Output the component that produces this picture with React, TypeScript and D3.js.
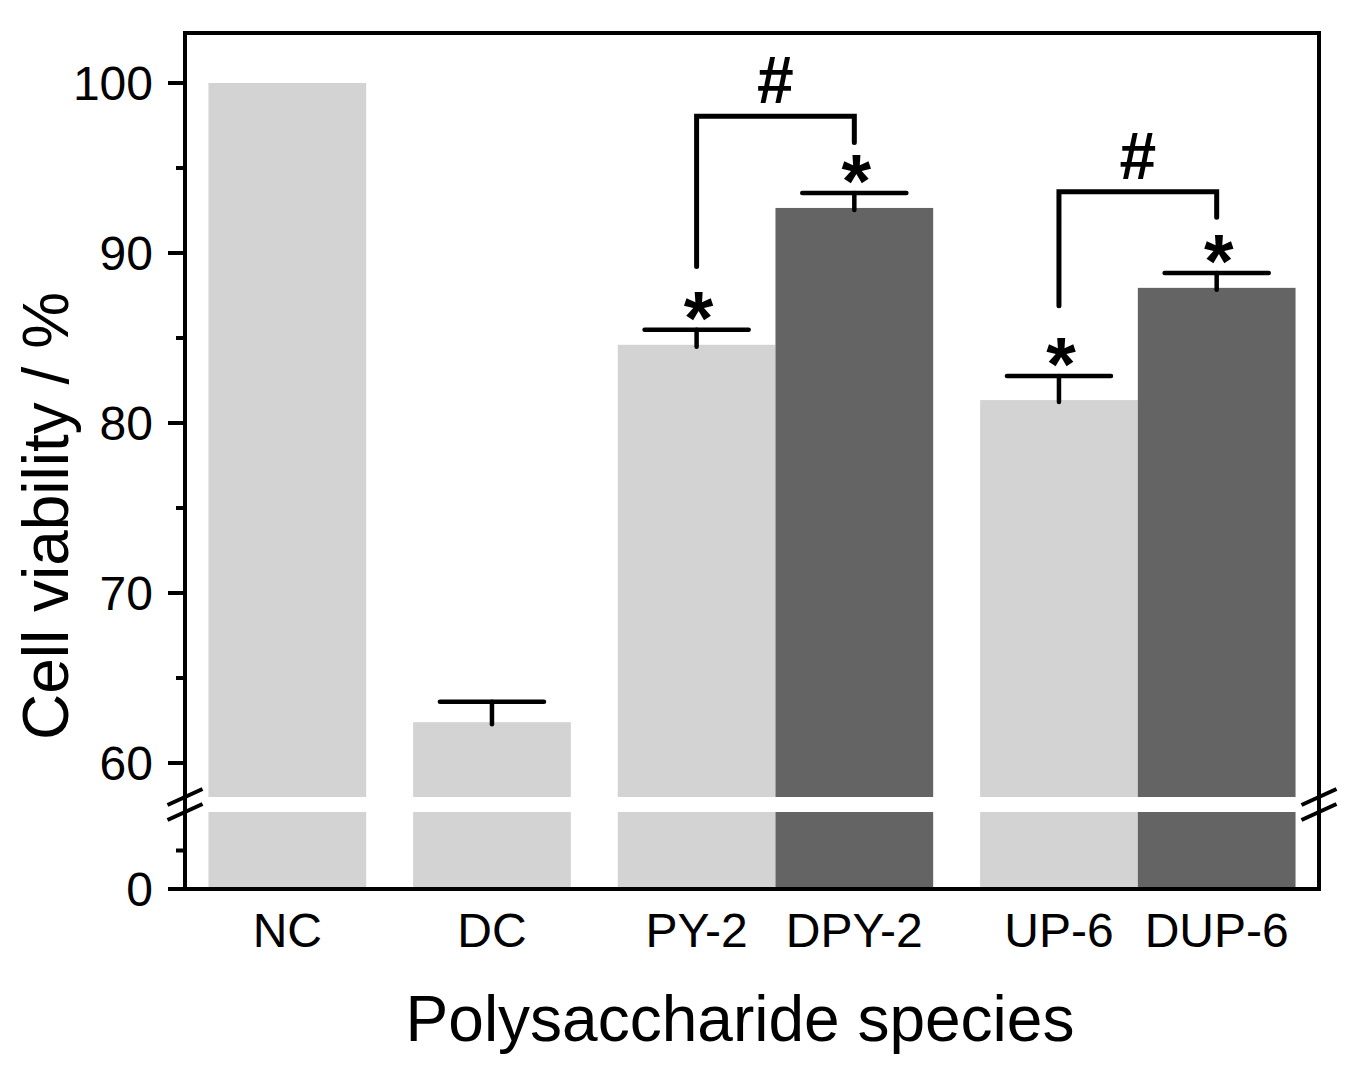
import * as d3 from "d3";

// cell viability after treatment, % of normal control
const categories = ["NC", "DC", "PY-2", "DPY-2", "UP-6", "DUP-6"];
const groups = [["NC"], ["DC"], ["PY-2", "DPY-2"], ["UP-6", "DUP-6"]];
const viability = [100, 62.4, 84.6, 92.65, 81.35, 87.95];
const errorUp = [0, 1.2, 0.88, 0.88, 1.42, 0.88];
const derivatized = [false, false, false, true, false, true];
const significant = ["PY-2", "DPY-2", "UP-6", "DUP-6"];
// # comparisons: bracket leg heights in % units
const brackets = [
  { from: "PY-2", to: "DPY-2", left: 89.2, top: 98.05, right: 96.5 },
  { from: "UP-6", to: "DUP-6", left: 86.9, top: 93.6, right: 92.1 },
];
const upperTicks = [60, 70, 80, 90, 100];
const upperMinor = [65, 75, 85, 95];
const lowerTicks = [0];
const lowerMinor = [2.5];

const W = 1359;
const H = 1082;
const frame = { left: 185, right: 1319, top: 33, bottom: 889 };
const breakTop = 797;
const breakBottom = 812;
const FONT = "'Liberation Sans', Arial, Helvetica, sans-serif";

export default function App() {
  const yUp = d3.scaleLinear().domain([58, 103]).range([breakTop, 32]);
  const yLow = d3.scaleLinear().domain([0, 5]).range([frame.bottom, breakBottom]);

  // bars are one unit wide; groups separated by a gap
  const gap = 0.2975;
  const starts: Record<string, number> = {};
  let u = gap / 2;
  groups.forEach((g) => {
    g.forEach((c) => {
      starts[c] = u;
      u += 1;
    });
    u += gap;
  });
  const total = u - gap / 2;
  const x = d3.scaleLinear().domain([0, total]).range([frame.left, frame.right]);
  const bw = x(1) - x(0);
  const cx = (c: string) => x(starts[c] + 0.5);
  const color = d3.scaleOrdinal<boolean, string>().domain([false, true]).range(["#d3d3d3", "#646464"]);

  const stroke = { stroke: "#000", strokeWidth: 4, fill: "none" };
  const capHalf = bw * 0.33;

  return (
    <div style={{ position: "absolute", left: 0, top: 0 }}>
      <svg width={W} height={H} style={{ display: "block", background: "#fff" }} fontFamily={FONT}>
        {categories.map((c, i) => (
          <g key={c}>
            <rect x={x(starts[c])} width={bw} y={yUp(viability[i])} height={breakTop - yUp(viability[i])} fill={color(derivatized[i])} />
            <rect x={x(starts[c])} width={bw} y={breakBottom} height={frame.bottom - breakBottom} fill={color(derivatized[i])} />
          </g>
        ))}

        {categories.map((c, i) =>
          errorUp[i] > 0 ? (
            <g key={c} {...stroke} strokeWidth={4.5} strokeLinecap="round">
              <line x1={cx(c)} x2={cx(c)} y1={yUp(viability[i] + errorUp[i])} y2={yUp(viability[i]) + 2} />
              <line x1={cx(c) - capHalf} x2={cx(c) + capHalf} y1={yUp(viability[i] + errorUp[i])} y2={yUp(viability[i] + errorUp[i])} />
            </g>
          ) : null
        )}

        {significant.map((c) => {
          const i = categories.indexOf(c);
          const cap = yUp(viability[i] + errorUp[i]);
          return (
            <text key={c} x={cx(c) + 2} y={cap + 14} textAnchor="middle" fontSize={76} fontWeight="bold">
              *
            </text>
          );
        })}

        {brackets.map((b) => (
          <g key={b.from}>
            <path
              d={`M${cx(b.from)},${yUp(b.left)}V${yUp(b.top)}H${cx(b.to)}V${yUp(b.right)}`}
              {...stroke}
              strokeWidth={5}
              strokeLinecap="round"
              strokeLinejoin="miter"
            />
            <text x={(cx(b.from) + cx(b.to)) / 2} y={yUp(b.top) - 13} textAnchor="middle" fontSize={66} fontWeight="bold">
              #
            </text>
          </g>
        ))}

        {/* frame */}
        <rect x={frame.left} y={frame.top} width={frame.right - frame.left} height={frame.bottom - frame.top} {...stroke} />

        {/* y ticks */}
        {upperTicks.map((t) => (
          <g key={t}>
            <line x1={frame.left - 17} x2={frame.left} y1={yUp(t)} y2={yUp(t)} {...stroke} />
            <text x={153} y={yUp(t)} dy="0.36em" textAnchor="end" fontSize={48}>
              {t}
            </text>
          </g>
        ))}
        {upperMinor.map((t) => (
          <line key={t} x1={frame.left - 9} x2={frame.left} y1={yUp(t)} y2={yUp(t)} {...stroke} />
        ))}
        {lowerTicks.map((t) => (
          <g key={t}>
            <line x1={frame.left - 17} x2={frame.left} y1={yLow(t)} y2={yLow(t)} {...stroke} />
            <text x={153} y={yLow(t)} dy="0.36em" textAnchor="end" fontSize={48}>
              {t}
            </text>
          </g>
        ))}
        {lowerMinor.map((t) => (
          <line key={t} x1={frame.left - 9} x2={frame.left} y1={yLow(t)} y2={yLow(t)} {...stroke} />
        ))}

        {/* axis break marks */}
        {[frame.left, frame.right].map((ax) =>
          [breakTop, breakBottom].map((by) => (
            <line key={`${ax}-${by}`} x1={ax - 17.5} y1={by + 8} x2={ax + 17.5} y2={by - 8} {...stroke} />
          ))
        )}

        {/* x labels */}
        {categories.map((c) => (
          <text key={c} x={cx(c)} y={947} textAnchor="middle" fontSize={48}>
            {c}
          </text>
        ))}

        <text x={740} y={1041} textAnchor="middle" fontSize={64}>
          Polysaccharide species
        </text>
        <text transform={`translate(68,516) rotate(-90)`} textAnchor="middle" fontSize={64}>
          Cell viability / %
        </text>
      </svg>
    </div>
  );
}
